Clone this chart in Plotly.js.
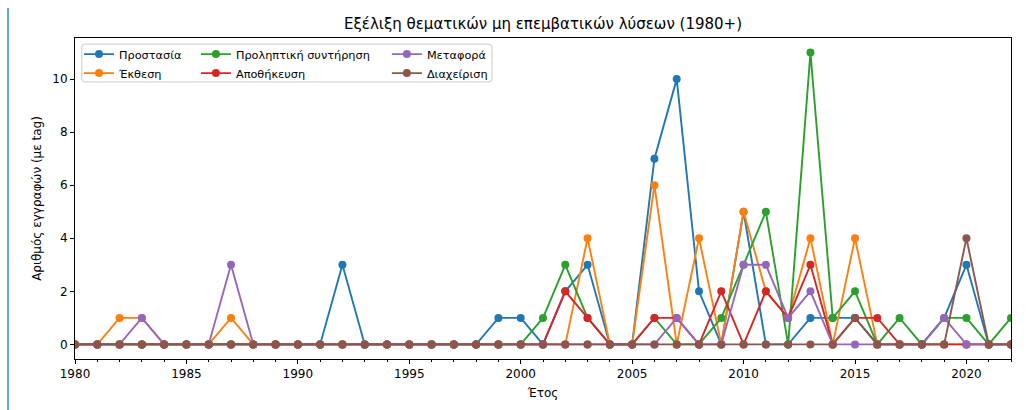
<!DOCTYPE html>
<html>
<head>
<meta charset="utf-8">
<script src="https://cdn.plot.ly/plotly-3.0.1.min.js"></script>
<style>
  html, body { margin: 0; padding: 0; background: #fff; }
  #wrap { position: relative; width: 1026px; height: 410px; }
  #chart { position: absolute; left: 0; top: 0; width: 1026px; height: 410px; }
  #bar { position: absolute; left: 7px; top: 8px; width: 2px; height: 402px; background: #5fa8e2; z-index: 5; }
</style>
</head>
<body>
<div id="wrap"><div id="chart"></div><div id="bar"></div></div>
<script>
const years = [1980,1981,1982,1983,1984,1985,1986,1987,1988,1989,1990,1991,1992,1993,1994,1995,1996,1997,1998,1999,2000,2001,2002,2003,2004,2005,2006,2007,2008,2009,2010,2011,2012,2013,2014,2015,2016,2017,2018,2019,2020,2021,2022];

const seriesNames = ["Προστασία","Έκθεση","Προληπτική συντήρηση","Αποθήκευση","Μεταφορά","Διαχείριση"];

//                 1980                     1990                     2000                     2010                     2020
const prostasia  = [0,0,0,0,0,0,0,0,0,0, 0,0,3,0,0,0,0,0,0,1, 1,0,2,3,0,0,7,10,2,0, 5,0,0,1,1,1,0,0,0,1, 3,0,0];
const ekthesi    = [0,0,1,1,0,0,0,1,0,0, 0,0,0,0,0,0,0,0,0,0, 0,0,0,4,0,0,6,0,4,0, 5,2,1,4,0,4,0,0,0,0, 0,0,0];
const prolptiki  = [0,0,0,0,0,0,0,0,0,0, 0,0,0,0,0,0,0,0,0,0, 0,1,3,1,0,0,1,0,0,1, 3,5,0,11,1,2,0,1,0,1, 1,0,1];
const apothikefsi= [0,0,0,0,0,0,0,0,0,0, 0,0,0,0,0,0,0,0,0,0, 0,0,2,1,0,0,1,1,0,2, 0,2,1,3,0,1,1,0,0,0, 0,0,0];
const metafora   = [0,0,0,1,0,0,0,3,0,0, 0,0,0,0,0,0,0,0,0,0, 0,0,0,0,0,0,0,1,0,0, 3,3,1,2,0,0,0,0,0,1, 0,0,0];
const diaxeirisi = [0,0,0,0,0,0,0,0,0,0, 0,0,0,0,0,0,0,0,0,0, 0,0,0,0,0,0,0,0,0,0, 0,0,0,0,0,1,0,0,0,0, 4,0,0];

const seriesValues = [prostasia, ekthesi, prolptiki, apothikefsi, metafora, diaxeirisi];
const colors = ["#1f77b4","#ff7f0e","#2ca02c","#d62728","#9467bd","#8c564b"];
const legendOf = ["legend","legend","legend2","legend2","legend3","legend3"];

const yTicks = [0,2,4,6,8,10];
const xTicks = [1980,1985,1990,1995,2000,2005,2010,2015,2020];

const FONT = "DejaVu Sans, sans-serif";

const traces = seriesValues.map((vals, i) => ({
  type: "scatter",
  mode: "lines+markers",
  x: years,
  y: vals,
  name: seriesNames[i],
  legend: legendOf[i],
  line: {color: colors[i], width: 1.9},
  marker: {color: colors[i], size: 8},
  hoverinfo: "x+y+name"
}));

// legend frame (rounded) in paper coords
const bx0 = 0.0072, bx1 = 0.4455, by0 = 0.863, by1 = 0.981, rx = 0.0032, ry = 0.0093;
const framePath = `M${bx0+rx},${by0} L${bx1-rx},${by0} Q${bx1},${by0} ${bx1},${by0+ry} L${bx1},${by1-ry} Q${bx1},${by1} ${bx1-rx},${by1} L${bx0+rx},${by1} Q${bx0},${by1} ${bx0},${by1-ry} L${bx0},${by0+ry} Q${bx0},${by0} ${bx0+rx},${by0} Z`;

const legendBase = {
  orientation: "v",
  xanchor: "left", yanchor: "top",
  y: 0.995,
  bgcolor: "rgba(0,0,0,0)",
  borderwidth: 0,
  font: {family: FONT, size: 11.3, color: "#000"},
  tracegroupgap: 0,
  itemwidth: 30
};

const layout = {
  width: 1026, height: 410,
  margin: {l: 75, r: 15, t: 38, b: 51},
  paper_bgcolor: "#fff",
  plot_bgcolor: "#fff",
  font: {family: FONT, color: "#000"},
  title: {
    text: "Εξέλιξη θεματικών μη επεμβατικών λύσεων (1980+)",
    font: {family: FONT, size: 15, color: "#000"},
    x: 0.5, xref: "paper", xanchor: "center",
    y: 1 - 24/410, yref: "container", yanchor: "middle"
  },
  xaxis: {
    range: [1980, 2022],
    tickvals: xTicks,
    ticktext: xTicks.map(String),
    ticks: "outside", ticklen: 4, tickwidth: 1, tickcolor: "#000",
    minor: {dtick: 1, tick0: 1980, ticks: "outside", ticklen: 2, tickwidth: 0.8, tickcolor: "#000", showgrid: false},
    showline: true, mirror: true, linecolor: "#000", linewidth: 1,
    showgrid: false, zeroline: false,
    tickfont: {family: FONT, size: 12, color: "#000"},
    title: {text: "Έτος", font: {family: FONT, size: 12, color: "#000"}, standoff: 8}
  },
  yaxis: {
    range: [-0.55, 11.55],
    tickvals: yTicks,
    ticktext: yTicks.map(String),
    ticks: "outside", ticklen: 4, tickwidth: 1, tickcolor: "#000",
    showline: true, mirror: true, linecolor: "#000", linewidth: 1,
    showgrid: false, zeroline: false,
    tickfont: {family: FONT, size: 12, color: "#000"},
    title: {text: "Αριθμός εγγραφών (με tag)", font: {family: FONT, size: 12, color: "#000"}, standoff: 8}
  },
  legend:  Object.assign({}, legendBase, {x: 0.0043}),
  legend2: Object.assign({}, legendBase, {x: 0.1292}),
  legend3: Object.assign({}, legendBase, {x: 0.3332}),
  shapes: [{
    type: "path", xref: "paper", yref: "paper",
    path: framePath,
    line: {color: "#cccccc", width: 1},
    fillcolor: "rgba(255,255,255,0.8)",
    layer: "above"
  }],
  showlegend: true
};

Plotly.newPlot("chart", traces, layout, {displayModeBar: false, staticPlot: false});
</script>
</body>
</html>
